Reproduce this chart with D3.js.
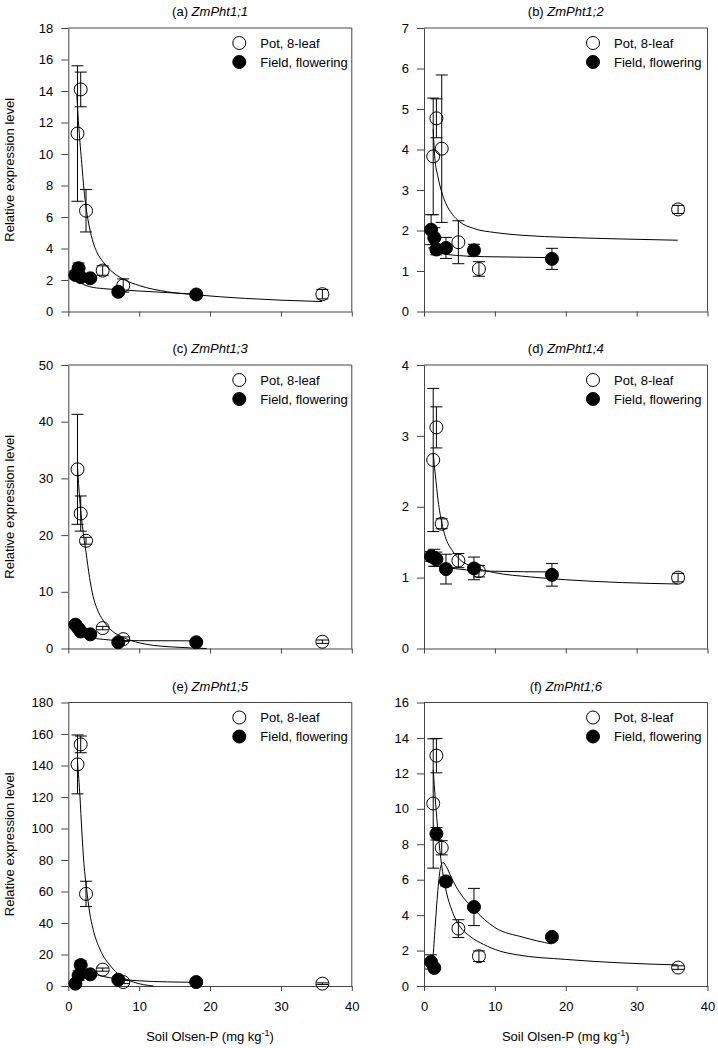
<html>
<head>
    <style>
        body { margin: 0; background: #ffffff; font-family: "Liberation Sans", Arial, Helvetica, sans-serif; }
        svg { display: block; }
    </style>
    <script src="https://cdn.jsdelivr.net/npm/d3@7"></script>
</head>
<body>
<svg id="Figura"></svg>

<script>
    // soil Olsen-P of the sampled points (mg/kg)
    const potX   = [1.3, 1.75, 2.5, 4.85, 7.75, 35.85];
    const fieldX = [1.0, 1.45, 1.75, 3.1, 7.05, 18.05];

    const genes   = ["ZmPht1;1", "ZmPht1;2", "ZmPht1;3", "ZmPht1;4", "ZmPht1;5", "ZmPht1;6"];
    const letters = ["(a)", "(b)", "(c)", "(d)", "(e)", "(f)"];
    const yMaxes  = [18, 7, 50, 4, 180, 16];
    const ySteps  = [2, 1, 10, 1, 20, 2];
    const xTicks  = [0, 10, 20, 30, 40];

    // relative expression, pot experiment (8-leaf) and field (flowering), with error bars
    const potY_a   = [11.3, 14.1, 6.4, 2.6, 1.65, 1.1];
    const potE_a   = [4.3, 1.1, 1.35, 0.3, 0.42, 0.3];
    const fieldY_a = [2.32, 2.75, 2.18, 2.11, 1.25, 1.08];
    const fieldE_a = [0.25, 0.33, 0.2, 0.15, 0.2, 0.1];

    const potY_b   = [3.83, 4.77, 4.02, 1.71, 1.05, 2.52];
    const potE_b   = [1.44, 0.48, 1.82, 0.53, 0.18, 0.1];
    const fieldY_b = [2.02, 1.82, 1.53, 1.57, 1.51, 1.3];
    const fieldE_b = [0.37, 0.25, 0.13, 0.26, 0.15, 0.26];

    const potY_c   = [31.6, 23.8, 19.0, 3.6, 1.65, 1.2];
    const potE_c   = [9.7, 3.1, 0.6, 0.3, 0.4, 0.3];
    const fieldY_c = [4.2, 3.5, 3.0, 2.5, 1.1, 1.1];
    const fieldE_c = [0.5, 0.3, 0.3, 0.3, 0.3, 0.3];

    const potY_d   = [2.66, 3.12, 1.76, 1.24, 1.09, 1.0];
    const potE_d   = [1.01, 0.29, 0.07, 0.1, 0.08, 0.06];
    const fieldY_d = [1.30, 1.28, 1.26, 1.12, 1.13, 1.04];
    const fieldE_d = [0.07, 0.12, 0.1, 0.21, 0.16, 0.16];

    const potY_e   = [140.7, 153.4, 58.5, 10.4, 2.5, 1.5];
    const potE_e   = [18.7, 5.3, 8.0, 1.0, 1.0, 0.5];
    const fieldY_e = [1.5, 6.6, 13.3, 7.4, 4.0, 2.5];
    const fieldE_e = [0.5, 3.0, 2.7, 1.0, 1.0, 0.5];

    const potY_f   = [10.3, 13.0, 7.8, 3.24, 1.68, 1.04];
    const potE_f   = [3.65, 0.97, 0.4, 0.5, 0.3, 0.1];
    const fieldY_f = [1.36, 1.02, 8.59, 5.9, 4.46, 2.77];
    const fieldE_f = [0.4, 0.1, 0.35, 0.25, 1.05, 0.2];

    // fitted curves as [x, y]
    const potFit_a   = [[1.2,13.8],[1.5,11.6],[1.9,9.4],[2.2,7.8],[2.54,6.5],[3,5.3],[3.5,4.4],[4,3.8],[5,3.1],[6,2.6],[7.76,2.05],[10,1.65],[14,1.25],[18,1.06],[25,0.83],[30,0.72],[35.8,0.63]];
    const fieldFit_a = [[0.95,2.1],[2,1.75],[3,1.58],[5,1.45],[7,1.39],[10,1.3],[14,1.2],[18,1.1]];

    const potFit_b   = [[1.3,4.5],[1.5,3.85],[2,3.3],[2.5,2.95],[3,2.7],[4,2.4],[5,2.22],[7,2.05],[10,1.95],[14,1.88],[20,1.83],[28,1.79],[35.8,1.76]];
    const fieldFit_b = [[1.0,1.62],[1.5,1.52],[2,1.47],[3,1.42],[5,1.38],[7,1.36],[10,1.35],[14,1.34],[18,1.33]];

    const potFit_c   = [[1.3,32],[1.6,26.5],[2,21.5],[2.5,17],[3,12.5],[3.5,9.2],[4,7.2],[5,4.8],[6,3.3],[7,2.4],[8,1.8],[10,1.0],[12,0.55],[15,0.25],[19.5,0]];
    const fieldFit_c = [[0.95,3.3],[1.5,2.6],[2,2.3],[3,1.95],[5,1.6],[7,1.42],[10,1.38],[18,1.35]];

    const potFit_d   = [[1.3,2.75],[1.6,2.45],[2,2.08],[2.5,1.78],[3,1.58],[4,1.38],[5,1.26],[7,1.15],[10,1.07],[15,1.01],[20,0.97],[28,0.93],[35.8,0.91]];
    const fieldFit_d = [[1.0,1.3],[1.5,1.25],[2,1.2],[3,1.15],[5,1.12],[7,1.1],[10,1.09],[18,1.08]];

    const potFit_e   = [[1.3,142],[1.65,120],[1.9,99],[2.2,78],[2.6,61],[3,47],[3.5,36],[4.5,23],[6,12.5],[7.3,6.6],[9.2,2.5],[12,0]];
    const fieldFit_e = [[0.95,0.5],[1.2,5],[1.5,9.5],[1.8,10.5],[2.2,10],[3,8.5],[5,6],[7,4.5],[10,3.3],[14,2.6],[18,2.3]];

    const potFit_f   = [[1.3,12.2],[1.6,10.5],[2,8.6],[2.5,6.8],[3,5.6],[4,4.2],[5,3.4],[6.5,2.8],[8.4,2.35],[10.7,1.97],[13,1.77],[20,1.5],[28,1.3],[35.8,1.19]];
    const fieldFit_f = [[1.0,0.9],[1.3,1.8],[1.6,3.5],[2,5.6],[2.4,6.8],[2.7,6.97],[3.2,6.7],[4,6.0],[5,5.3],[7,4.35],[10,3.3],[14,2.75],[18,2.37]];

    const potYs    = [potY_a, potY_b, potY_c, potY_d, potY_e, potY_f];
    const potEs    = [potE_a, potE_b, potE_c, potE_d, potE_e, potE_f];
    const fieldYs  = [fieldY_a, fieldY_b, fieldY_c, fieldY_d, fieldY_e, fieldY_f];
    const fieldEs  = [fieldE_a, fieldE_b, fieldE_c, fieldE_d, fieldE_e, fieldE_f];
    const potFits  = [potFit_a, potFit_b, potFit_c, potFit_d, potFit_e, potFit_f];
    const fieldFits = [fieldFit_a, fieldFit_b, fieldFit_c, fieldFit_d, fieldFit_e, fieldFit_f];

    const ancho = 718, alto = 1048;
    const colX = [68.3, 424];
    const rowY = [28, 365, 702.5];
    const lado = 283.5;
    const radio = 6.5;
    const gris = "#444";

    const contenedor = d3.select("#Figura").attr("width", ancho).attr("height", alto);

    function dibujarPanel(i) {
        let col = i % 2, fila = Math.floor(i / 2);
        let x0 = colX[col], y0 = rowY[fila];
        let g = contenedor.append("g").attr("transform", `translate(${x0},${y0})`);

        let escalaX = d3.scaleLinear().domain([0, 40]).range([0, lado]);
        let escalaY = d3.scaleLinear().domain([0, yMaxes[i]]).range([lado, 0]);

        // title
        let titulo = g.append("text")
            .attr("x", lado / 2).attr("y", -12)
            .attr("text-anchor", "middle")
            .style("font-size", "13px");
        titulo.append("tspan").text(letters[i] + " ");
        titulo.append("tspan").style("font-style", "italic").text(genes[i]);

        // axes
        let ejeY = d3.axisLeft(escalaY)
            .tickValues(d3.range(0, yMaxes[i] + ySteps[i] / 2, ySteps[i]))
            .tickSize(7).tickSizeOuter(0).tickPadding(8)
            .tickFormat(d3.format("d"));
        let gy = g.append("g").call(ejeY);

        let ejeX = d3.axisBottom(escalaX)
            .tickValues(xTicks).tickSize(5).tickSizeOuter(0).tickPadding(11)
            .tickFormat(fila === 2 ? d3.format("d") : () => "");
        let gx = g.append("g").attr("transform", `translate(0,${lado})`).call(ejeX);

        [gx, gy].forEach(eje => {
            eje.selectAll("path, line").attr("stroke", gris);
            eje.selectAll("text").attr("fill", "#000").style("font-size", "13px")
                .style("font-family", "\"Liberation Sans\", Arial, sans-serif");
        });

        g.append("path")
            .attr("d", `M0,0H${lado}V${lado}`)
            .attr("fill", "none").attr("stroke", gris);

        if (col === 0) {
            g.append("text")
                .attr("transform", `translate(${14 - x0},${lado / 2}) rotate(-90)`)
                .attr("text-anchor", "middle")
                .style("font-size", "13px")
                .text("Relative expression level");
        }
        if (fila === 2) {
            let t = g.append("text")
                .attr("x", lado / 2).attr("y", lado + 55)
                .attr("text-anchor", "middle")
                .style("font-size", "13px");
            t.append("tspan").text("Soil Olsen-P (mg kg");
            t.append("tspan").attr("dy", -5).style("font-size", "9px").text("-1");
            t.append("tspan").attr("dy", 5).text(")");
        }

        // fitted curves
        let linea = d3.line()
            .x(d => escalaX(d[0]))
            .y(d => escalaY(d[1]))
            .curve(d3.curveMonotoneX);
        [potFits[i], fieldFits[i]].forEach(ajuste => {
            g.append("path").attr("d", linea(ajuste))
                .attr("fill", "none").attr("stroke", "#000").attr("stroke-width", 1);
        });

        // error bars + points
        let series = [
            { xs: potX, ys: potYs[i], es: potEs[i], relleno: "none" },
            { xs: fieldX, ys: fieldYs[i], es: fieldEs[i], relleno: "#000" }
        ];
        series.forEach(s => {
            let puntos = s.xs.map((x, k) => ({ x: x, y: s.ys[k], e: s.es[k] }));
            let barras = g.append("g").selectAll("g").data(puntos).enter().append("g")
                .attr("stroke", "#000").attr("stroke-width", 1);
            barras.append("line")
                .attr("x1", d => escalaX(d.x)).attr("x2", d => escalaX(d.x))
                .attr("y1", d => escalaY(d.y + d.e)).attr("y2", d => escalaY(Math.max(0, d.y - d.e)));
            barras.append("line")
                .attr("x1", d => escalaX(d.x) - 6).attr("x2", d => escalaX(d.x) + 6)
                .attr("y1", d => escalaY(d.y + d.e)).attr("y2", d => escalaY(d.y + d.e));
            barras.append("line")
                .attr("x1", d => escalaX(d.x) - 6).attr("x2", d => escalaX(d.x) + 6)
                .attr("y1", d => escalaY(Math.max(0, d.y - d.e))).attr("y2", d => escalaY(Math.max(0, d.y - d.e)));
        });
        series.forEach(s => {
            let puntos = s.xs.map((x, k) => ({ x: x, y: s.ys[k] }));
            g.append("g").selectAll("circle").data(puntos).enter().append("circle")
                .attr("cx", d => escalaX(d.x)).attr("cy", d => escalaY(d.y))
                .attr("r", radio)
                .attr("fill", s.relleno).attr("stroke", "#000").attr("stroke-width", 1);
        });

        // legend
        let leyenda = g.append("g").attr("transform", `translate(${col === 0 ? 171 : 169},15)`);
        [["Pot, 8-leaf", "none"], ["Field, flowering", "#000"]].forEach((item, k) => {
            leyenda.append("circle").attr("cx", 0).attr("cy", k * 19).attr("r", radio)
                .attr("fill", item[1]).attr("stroke", "#000");
            leyenda.append("text").attr("x", 21).attr("y", k * 19 + 4.5)
                .style("font-size", "13px").text(item[0]);
        });
    }

    genes.forEach((gen, i) => dibujarPanel(i));
</script>
</body>
</html>
